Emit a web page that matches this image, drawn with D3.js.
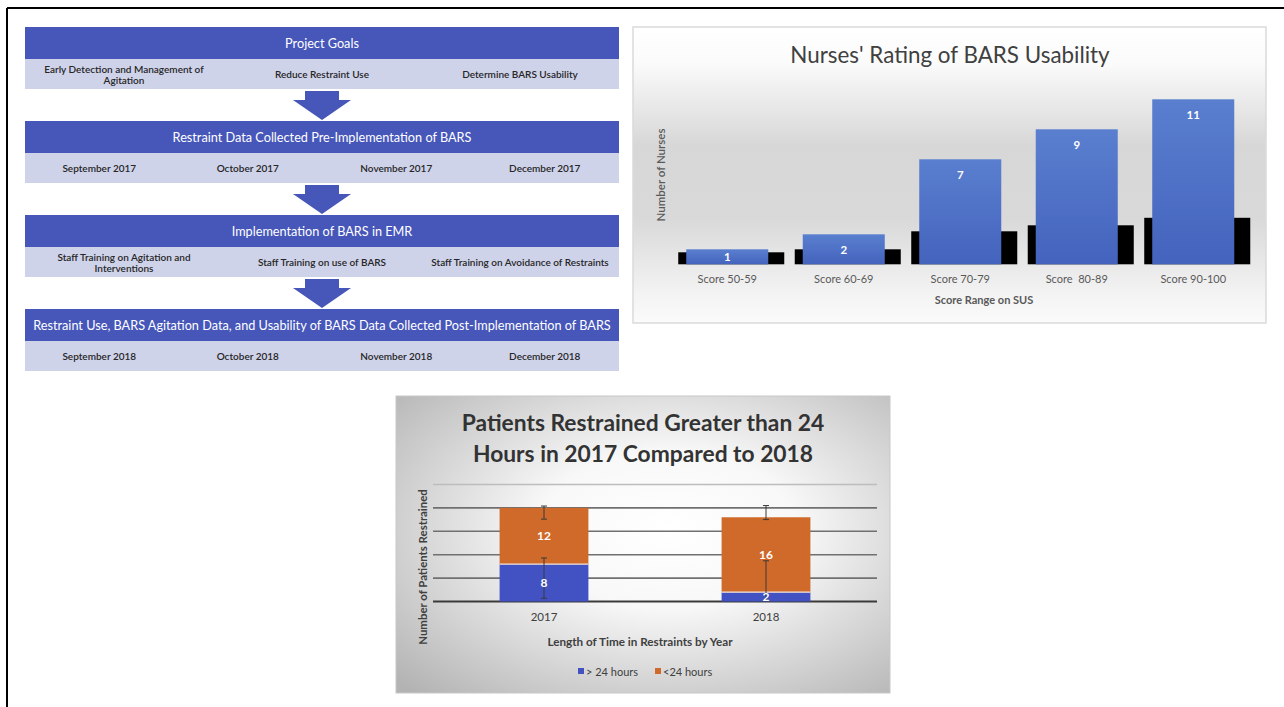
<!DOCTYPE html>
<html>
<head>
<meta charset="utf-8">
<script src="https://cdn.jsdelivr.net/npm/d3@7"></script>
<style>
  html, body { margin: 0; padding: 0; background: #ffffff; }
  svg { display: block; font-family: Lato, "Open Sans", sans-serif; }
  text { white-space: pre; }
</style>
</head>
<body>
<svg id="fig" width="1284" height="707"></svg>
<script>
// ---------- Data ----------
// Flowchart steps
const stepTitles = [
  "Project Goals",
  "Restraint Data Collected Pre-Implementation of BARS",
  "Implementation of BARS in EMR",
  "Restraint Use, BARS Agitation Data, and Usability of BARS Data Collected Post-Implementation of BARS"
];
const stepItems = [
  ["Early Detection and Management of\nAgitation", "Reduce Restraint Use", "Determine BARS Usability"],
  ["September 2017", "October 2017", "November 2017", "December 2017"],
  ["Staff Training on Agitation and\nInterventions", "Staff Training on use of BARS", "Staff Training on Avoidance of Restraints"],
  ["September 2018", "October 2018", "November 2018", "December 2018"]
];

// SUS usability ratings
const susCategories = ["Score 50-59", "Score 60-69", "Score 70-79", "Score  80-89", "Score 90-100"];
const susCounts = [1, 2, 7, 9, 11];
const susShade = [0.8, 1.0, 2.2, 2.6, 3.1];

// Restraint duration by year
const years = ["2017", "2018"];
const over24 = [8, 2];
const under24 = [12, 16];
const over24ErrLow = [0.7, 0.3];
const over24ErrHigh = [9.3, 8.7];
const under24ErrLow = [17.6, 17.5];
const under24ErrHigh = [20.4, 20.5];
const restraintTicks = [0, 5, 10, 15, 20, 25];
const legendLabels = ["> 24 hours", "<24 hours"];

// ---------- Setup ----------
const svg = d3.select("#fig");
const defs = svg.append("defs");

// outer frame (top and left rules)
svg.append("line").attr("x1", 7).attr("y1", 8).attr("x2", 1284).attr("y2", 8)
  .attr("stroke", "#000").attr("stroke-width", 2);
svg.append("line").attr("x1", 7).attr("y1", 8).attr("x2", 7).attr("y2", 707)
  .attr("stroke", "#000").attr("stroke-width", 2);

// ---------- Flowchart ----------
const flow = svg.append("g");
const fx0 = 25, fx1 = 619, fTop = 27, headH = 32, rowH = 30, gapH = 32;
const blockH = headH + rowH + gapH;
const headColor = "#4656b9", rowColor = "#cfd3ea";

stepTitles.forEach((title, i) => {
  const y0 = fTop + i * blockH;
  flow.append("rect").attr("x", fx0).attr("y", y0).attr("width", fx1 - fx0).attr("height", headH)
    .attr("fill", headColor);
  flow.append("text").attr("x", (fx0 + fx1) / 2).attr("y", y0 + headH / 2)
    .attr("text-anchor", "middle").attr("dominant-baseline", "central")
    .attr("fill", "#ffffff").attr("font-size", 12.7).text(title);

  flow.append("rect").attr("x", fx0).attr("y", y0 + headH).attr("width", fx1 - fx0).attr("height", rowH)
    .attr("fill", rowColor);
  const items = stepItems[i];
  const col = d3.scaleBand().domain(d3.range(items.length)).range([fx0, fx1]);
  items.forEach((it, j) => {
    const lines = it.split("\n");
    const cx = col(j) + col.bandwidth() / 2;
    const cy = y0 + headH + rowH / 2;
    const t = flow.append("text").attr("text-anchor", "middle")
      .attr("fill", "#262626").attr("font-size", 10).attr("font-weight", 600);
    lines.forEach((ln, k) => {
      t.append("tspan").attr("x", cx)
        .attr("y", cy + (k - (lines.length - 1) / 2) * 11)
        .attr("dominant-baseline", "central").text(ln);
    });
  });

  if (i < stepTitles.length - 1) {
    const ay = y0 + headH + rowH;
    const cx = (fx0 + fx1) / 2;
    const arrow = d3.path();
    arrow.moveTo(cx - 17, ay + 2);
    arrow.lineTo(cx + 17, ay + 2);
    arrow.lineTo(cx + 17, ay + 11);
    arrow.lineTo(cx + 29, ay + 11);
    arrow.lineTo(cx, ay + gapH - 1);
    arrow.lineTo(cx - 29, ay + 11);
    arrow.lineTo(cx - 17, ay + 11);
    arrow.closePath();
    flow.append("path").attr("d", arrow.toString()).attr("fill", headColor);
  }
});

// ---------- SUS usability chart ----------
const sus = svg.append("g");
const susBg = defs.append("linearGradient").attr("id", "susBg")
  .attr("x1", 0).attr("y1", 0).attr("x2", 0).attr("y2", 1);
[[0, "#ffffff"], [0.12, "#fbfbfb"], [0.4, "#d7d7d7"], [0.65, "#d9d9d9"], [0.9, "#f3f3f3"], [1, "#fbfbfb"]]
  .forEach(([o, c]) => susBg.append("stop").attr("offset", o).attr("stop-color", c));
const barGrad = defs.append("linearGradient").attr("id", "barGrad")
  .attr("x1", 0).attr("y1", 0).attr("x2", 0).attr("y2", 1);
barGrad.append("stop").attr("offset", 0).attr("stop-color", "#5a7fcf");
barGrad.append("stop").attr("offset", 1).attr("stop-color", "#4463bd");

sus.append("rect").attr("x", 633).attr("y", 27).attr("width", 633).attr("height", 296)
  .attr("fill", "url(#susBg)").attr("stroke", "#dadada").attr("stroke-width", 1.5);

const xs = d3.scaleBand().domain(susCategories).range([669, 1251.5])
  .paddingInner(0.296).paddingOuter(0.148);
const ys = d3.scaleLinear().domain([0, 12]).range([264.3, 84.3]);

sus.append("text").attr("x", 950).attr("y", 54).attr("text-anchor", "middle")
  .attr("dominant-baseline", "central").attr("font-size", 22.4).attr("fill", "#404040")
  .text("Nurses' Rating of BARS Usability");

// dark base blocks behind each bar
sus.selectAll("rect.shade").data(susShade).join("rect").attr("class", "shade")
  .attr("x", (d, i) => xs(susCategories[i]) - 8)
  .attr("width", xs.bandwidth() + 24)
  .attr("y", d => ys(d)).attr("height", d => ys(0) - ys(d))
  .attr("fill", "#000");

sus.selectAll("rect.bar").data(susCounts).join("rect").attr("class", "bar")
  .attr("x", (d, i) => xs(susCategories[i])).attr("width", xs.bandwidth())
  .attr("y", d => ys(d)).attr("height", d => ys(0) - ys(d))
  .attr("fill", "url(#barGrad)");

sus.selectAll("text.val").data(susCounts).join("text").attr("class", "val")
  .attr("x", (d, i) => xs(susCategories[i]) + xs.bandwidth() / 2)
  .attr("y", d => ys(d) + Math.min(15, (ys(0) - ys(d)) / 2))
  .attr("text-anchor", "middle").attr("dominant-baseline", "central")
  .attr("fill", "#ffffff").attr("font-size", 11.5).attr("font-weight", 700)
  .text(d => d);

const xAxisS = sus.append("g").attr("transform", "translate(0,272)")
  .call(d3.axisBottom(xs).tickSize(0).tickPadding(3));
xAxisS.select(".domain").remove();
xAxisS.selectAll("text").attr("font-size", 11).attr("fill", "#595959")
  .attr("font-family", "Lato, sans-serif");

sus.append("text").attr("x", 984).attr("y", 299).attr("text-anchor", "middle")
  .attr("dominant-baseline", "central").attr("font-size", 11).attr("font-weight", 700)
  .attr("fill", "#595959").text("Score Range on SUS");
sus.append("text").attr("transform", "translate(660,175) rotate(-90)").attr("text-anchor", "middle")
  .attr("dominant-baseline", "central").attr("font-size", 11.5).attr("font-weight", 600)
  .attr("fill", "#595959").text("Number of Nurses");

// ---------- Restraint duration chart ----------
const rc = svg.append("g");
const rBg = defs.append("radialGradient").attr("id", "rBg")
  .attr("cx", 0.55).attr("cy", 0.45).attr("r", 0.75);
[[0, "#ffffff"], [0.35, "#f8f8f8"], [1, "#b3b3b3"]]
  .forEach(([o, c]) => rBg.append("stop").attr("offset", o).attr("stop-color", c));

rc.append("rect").attr("x", 396).attr("y", 396).attr("width", 494).attr("height", 297)
  .attr("fill", "url(#rBg)").attr("stroke", "#c8c8c8").attr("stroke-width", 1);

rc.append("text").attr("text-anchor", "middle").attr("font-size", 22.8).attr("font-weight", 700)
  .attr("fill", "#333333")
  .call(t => {
    t.append("tspan").attr("x", 643).attr("y", 422).attr("dominant-baseline", "central")
      .text("Patients Restrained Greater than 24");
    t.append("tspan").attr("x", 643).attr("y", 453).attr("dominant-baseline", "central")
      .text("Hours in 2017 Compared to 2018");
  });

const xr = d3.scaleBand().domain(years).range([433, 877]).paddingInner(0.6).paddingOuter(0.3);
const yr = d3.scaleLinear().domain([0, 25]).range([601.5, 484.5]);

rc.selectAll("line.grid").data(restraintTicks).join("line").attr("class", "grid")
  .attr("x1", 433).attr("x2", 877)
  .attr("y1", d => yr(d)).attr("y2", d => yr(d))
  .attr("stroke", d => d === 0 ? "#3a3a3a" : (d === 25 ? "#bdbdbd" : "#707070"))
  .attr("stroke-width", d => d === 0 ? 2.2 : 1.6);

const blue = "#4352c2", orange = "#cf6a2b";
rc.selectAll("rect.over").data(over24).join("rect").attr("class", "over")
  .attr("x", (d, i) => xr(years[i])).attr("width", xr.bandwidth())
  .attr("y", d => yr(d)).attr("height", d => yr(0) - yr(d)).attr("fill", blue);
rc.selectAll("rect.under").data(under24).join("rect").attr("class", "under")
  .attr("x", (d, i) => xr(years[i])).attr("width", xr.bandwidth())
  .attr("y", (d, i) => yr(over24[i] + d)).attr("height", (d, i) => yr(over24[i]) - yr(over24[i] + d))
  .attr("fill", orange);
// light seam between the stacked segments
rc.selectAll("line.seam").data(over24).join("line").attr("class", "seam")
  .attr("x1", (d, i) => xr(years[i])).attr("x2", (d, i) => xr(years[i]) + xr.bandwidth())
  .attr("y1", d => yr(d)).attr("y2", d => yr(d))
  .attr("stroke", "#f3e3d6").attr("stroke-width", 1.2);

// error bars
function errorBars(lo, hi, cls) {
  years.forEach((yv, i) => {
    const cx = xr(yv) + xr.bandwidth() / 2;
    const g = rc.append("g").attr("class", cls).attr("stroke", "#3a3a3a").attr("stroke-width", 1);
    g.append("line").attr("x1", cx).attr("x2", cx).attr("y1", yr(lo[i])).attr("y2", yr(hi[i]));
    g.append("line").attr("x1", cx - 3).attr("x2", cx + 3).attr("y1", yr(lo[i])).attr("y2", yr(lo[i]));
    g.append("line").attr("x1", cx - 3).attr("x2", cx + 3).attr("y1", yr(hi[i])).attr("y2", yr(hi[i]));
  });
}
errorBars(over24ErrLow, over24ErrHigh, "err-over");
errorBars(under24ErrLow, under24ErrHigh, "err-under");

// segment labels
rc.selectAll("text.lo").data(over24).join("text").attr("class", "lo")
  .attr("x", (d, i) => xr(years[i]) + xr.bandwidth() / 2)
  .attr("y", d => (yr(0) + yr(d)) / 2)
  .attr("text-anchor", "middle").attr("dominant-baseline", "central")
  .attr("fill", "#fff").attr("font-size", 12).attr("font-weight", 700).text(d => d);
rc.selectAll("text.hi").data(under24).join("text").attr("class", "hi")
  .attr("x", (d, i) => xr(years[i]) + xr.bandwidth() / 2)
  .attr("y", (d, i) => (yr(over24[i]) + yr(over24[i] + d)) / 2)
  .attr("text-anchor", "middle").attr("dominant-baseline", "central")
  .attr("fill", "#fff").attr("font-size", 12).attr("font-weight", 700).text(d => d);

const xAxisR = rc.append("g").attr("transform", "translate(0,610)")
  .call(d3.axisBottom(xr).tickSize(0).tickPadding(3));
xAxisR.select(".domain").remove();
xAxisR.selectAll("text").attr("font-size", 11.5).attr("fill", "#404040")
  .attr("font-family", "Lato, sans-serif");

rc.append("text").attr("x", 640).attr("y", 641).attr("text-anchor", "middle")
  .attr("dominant-baseline", "central").attr("font-size", 11.7).attr("font-weight", 700)
  .attr("fill", "#404040").text("Length of Time in Restraints by Year");
rc.append("text").attr("transform", "translate(422,567) rotate(-90)").attr("text-anchor", "middle")
  .attr("dominant-baseline", "central").attr("font-size", 11.4).attr("font-weight", 700)
  .attr("fill", "#404040").text("Number of Patients Restrained");

// legend
const legColors = [blue, orange];
const legX = [578, 655];
legendLabels.forEach((lab, i) => {
  rc.append("rect").attr("x", legX[i]).attr("y", 668).attr("width", 6).attr("height", 6)
    .attr("fill", legColors[i]);
  rc.append("text").attr("x", legX[i] + 8).attr("y", 671.5).attr("dominant-baseline", "central")
    .attr("font-size", 11).attr("fill", "#404040").text(lab);
});
</script>
</body>
</html>
